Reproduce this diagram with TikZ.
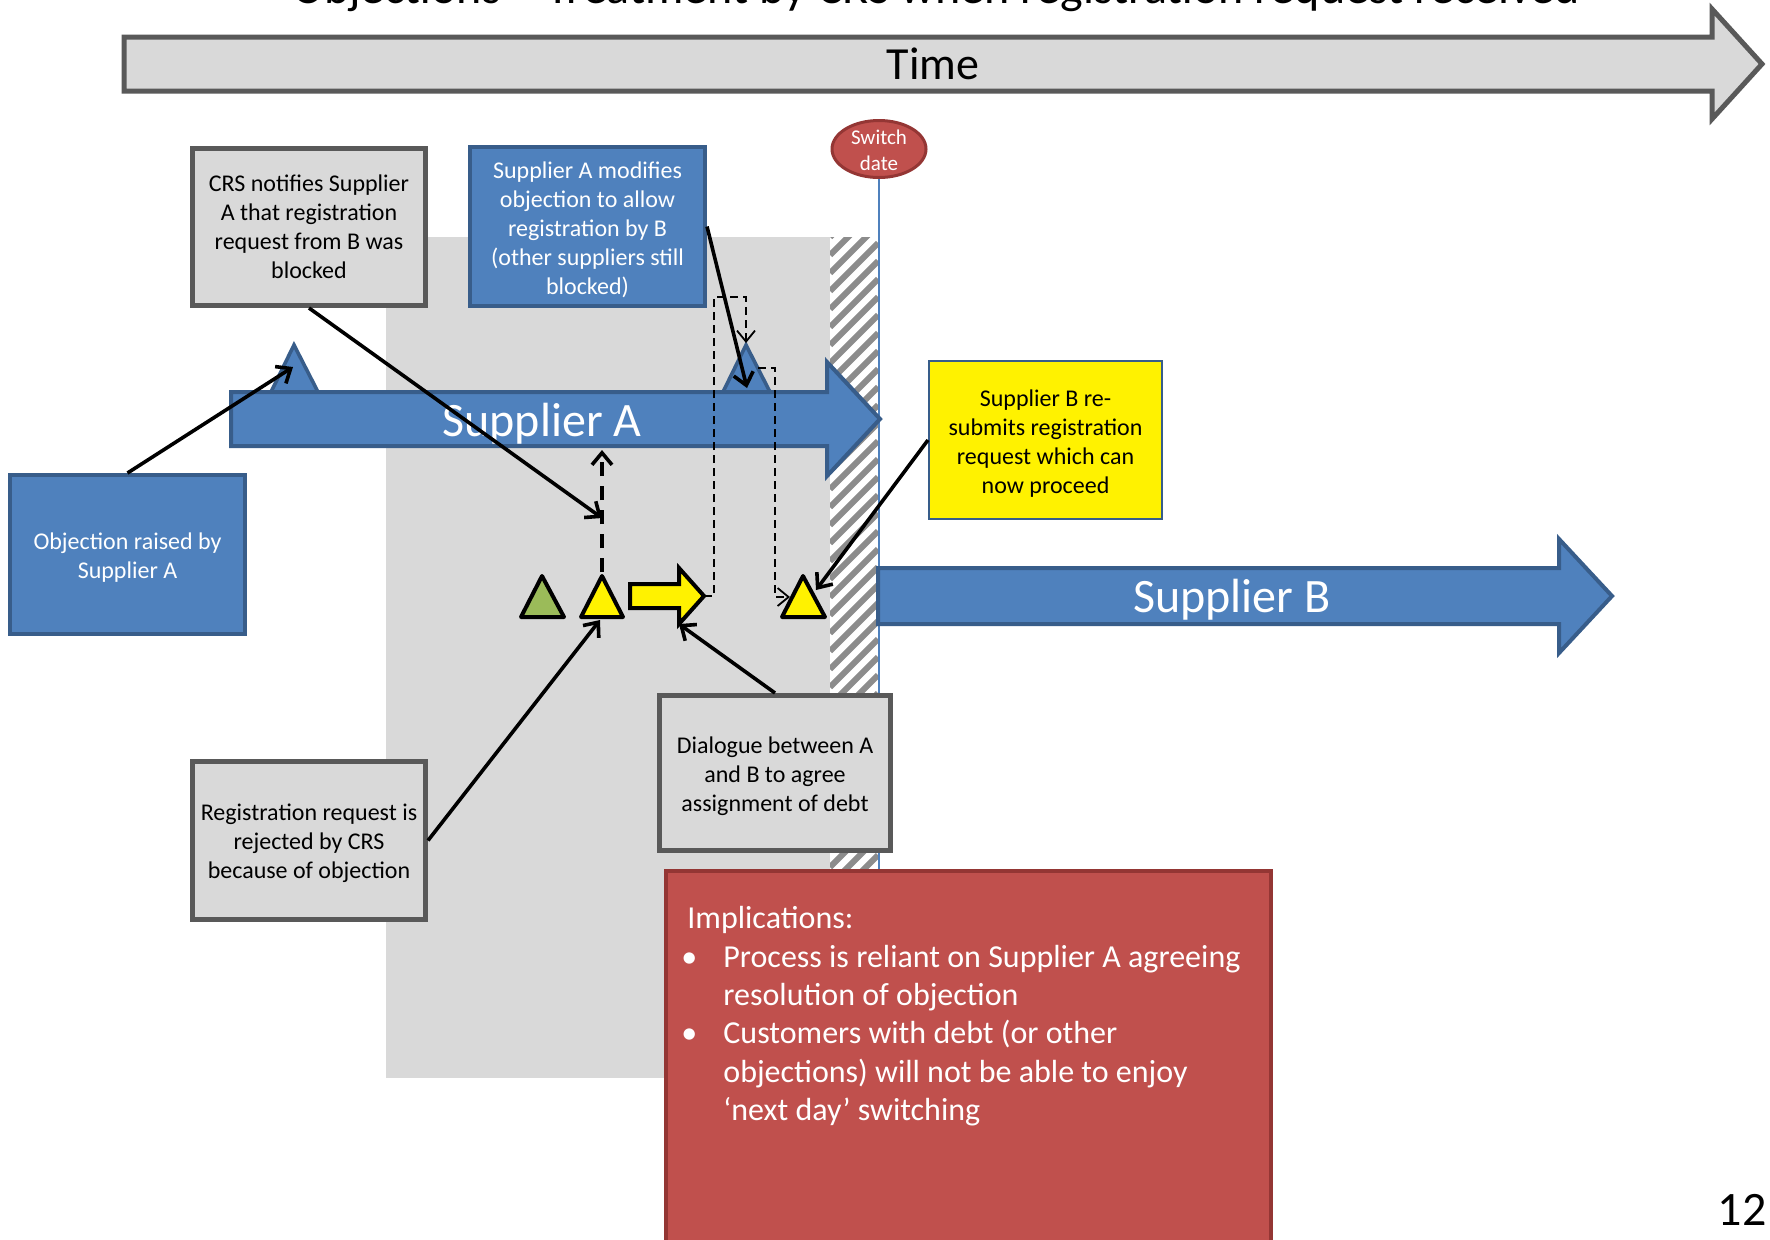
\documentclass[tikz,border=0pt]{standalone}
\usepackage{fontspec}
\setmainfont{Carlito}
\usetikzlibrary{shapes.geometric,arrows.meta}

\definecolor{blueF}{HTML}{4F81BD}
\definecolor{blueD}{HTML}{385D8A}
\definecolor{greyF}{HTML}{D9D9D9}
\definecolor{greyD}{HTML}{595959}
\definecolor{redF}{HTML}{C0504D}
\definecolor{redD}{HTML}{943634}
\definecolor{greenF}{HTML}{9BBB59}
\definecolor{hatchC}{HTML}{8C8C8C}

% invisible strut that lowers a centred block of lines a little
\newcommand\firstline{\rule{0pt}{11.5pt}}

\tikzset{
  small/.style={font=\fontsize{12}{14.5}\selectfont},
  greybox/.style={small, draw=greyD, line width=2.5pt, fill=greyF, align=center,
    inner sep=0pt},
  bluebox/.style={small, draw=blueD, line width=2pt, fill=blueF, text=white,
    align=center, inner sep=0pt},
  conn/.style={line width=1.8pt, -{Straight Barb[length=6pt,width=10pt]}},
  thickdash/.style={conn, dash pattern=on 7pt off 5pt},
  thindash/.style={line width=0.9pt, dash pattern=on 4pt off 2.5pt,
    -{Straight Barb[length=5.5pt,width=9pt]}},
  lane/.style={draw=blueD, line width=2pt, fill=blueF, line join=miter},
  marker/.style={draw=black, line width=2pt, line join=round},
  big/.style={font=\fontsize{24}{28}\selectfont},
  impl/.style={anchor=base west, text=white, inner sep=0pt,
    font=\fontsize{16}{19.2}\selectfont},
}

\begin{document}
\begin{tikzpicture}[x=0.5pt,y=-0.5pt]
\useasboundingbox (0,0) rectangle (1770,1239);
\clip (0,0) rectangle (1770,1239);
\fill[white] (0,0) rectangle (1770,1239);

% objection period and frozen strip before the switch date
\fill[greyF] (386,237) rectangle (830,1078);
\begin{scope}
  \clip (830,237) rectangle (878,1078);
  \foreach \k in {0,...,50}
    \draw[hatchC, line width=3pt] (830,237+\k*18) -- ++(48,-48);
\end{scope}

% title
\node[anchor=base, font=\fontsize{24}{28}\selectfont] (title) at (936,3)
  {Objections – Treatment by CRS when registration request received};

% time axis
\draw[greyD, line width=2.5pt, fill=greyF, line join=miter]
  (124,37) -- (1712,37) -- (1712,9) -- (1762,64) -- (1712,119) -- (1712,91)
  -- (124,91) -- cycle;
\node[font=\fontsize{23}{28}\selectfont] (time) at (933,64) {Time};

% switch date marker
\node[ellipse, draw=redD, line width=1.5pt, fill=redF, minimum width=47pt,
  minimum height=28.5pt, inner sep=0pt] (sw) at (879,149) {};
\node[text=white, align=center, inner sep=0pt,
  font=\fontsize{10.5}{13}\selectfont] (swtext) at (879,150) {Switch\\date};
\coordinate (swend) at (879,1078);
\draw[blueF, line width=0.8pt] (sw.south) -- (swend);

% supplier lanes
\draw[lane] (231,392) -- (827,392) -- (827,362) -- (880,419) -- (827,476)
  -- (827,446) -- (231,446) -- cycle;
\node[big, text=white] (supA) at (542,423.5) {Supplier A};
\draw[lane] (878,568) -- (1559,568) -- (1559,539) -- (1612,596) -- (1559,653)
  -- (1559,624) -- (878,624) -- cycle;
\node[big, text=white] (supB) at (1232,600) {Supplier B};

% objection markers on Supplier A
\draw[lane, line width=1.8pt] (271,392) -- (294,345) -- (318,392) -- cycle;
\draw[lane, line width=1.8pt] (723,392) -- (746,345) -- (770,392) -- cycle;
\coordinate (triLin) at (293,367);
\coordinate (triRin) at (747,388);
\coordinate (triRtop) at (746,343);
\coordinate (triRside) at (758,368);

% registration request markers
\draw[marker, fill=greenF] (521,617) -- (542,576) -- (564,617) -- cycle;
\draw[marker, fill=yellow] (581,617) -- (602,576) -- (623,617) -- cycle;
\draw[marker, fill=yellow] (782,617) -- (803,576) -- (825,617) -- cycle;
\draw[draw=black, line width=2pt, line join=miter, fill=yellow]
  (630,584) -- (679,584) -- (679,568) -- (704,596) -- (679,624) -- (679,608)
  -- (630,608) -- cycle;
\coordinate (tri1top) at (602,572);
\coordinate (tri1bot) at (600,620);
\coordinate (tri2in) at (816,590);
\coordinate (tri2left) at (790,597);
\coordinate (yarTip) at (704,596);
\coordinate (yarBot) at (679,624);
\coordinate (supAbot) at (602,450);
\coordinate (dashmid) at (602,518);
\coordinate (d1) at (714,297);
\coordinate (d2) at (775,597);

% call-out boxes
\node[bluebox, minimum width=117.5pt, minimum height=79.5pt] (objbox)
  at (127.5,554.5) {\firstline Objection raised by\\Supplier A};
\node[greybox, minimum width=116.5pt, minimum height=78.5pt] (crs)
  at (309,227) {CRS notifies Supplier\\A that registration\\request from B was\\blocked};
\node[greybox, minimum width=116.5pt, minimum height=79pt] (regbox)
  at (309,840.5) {\firstline Registration request is\\rejected by CRS\\because of objection};
\node[bluebox, minimum width=117.5pt, minimum height=79.5pt] (modbox)
  at (587.5,226.5) {\firstline Supplier A modifies\\objection to allow\\registration by B\\(other suppliers still\\blocked)};
\node[small, draw=blueD, line width=1.2pt, fill=yellow, align=center,
  inner sep=0pt, minimum width=116.3pt, minimum height=78.8pt] (ybox)
  at (1045.5,440) {\firstline Supplier B re-\\submits registration\\request which can\\now proceed};
\node[greybox, minimum width=115.5pt, minimum height=77.5pt] (dlg)
  at (775,773) {\firstline Dialogue between A\\and B to agree\\assignment of debt};

% connectors
\draw[conn] (objbox.north) -- (triLin);
\draw[conn] (crs.south) -- (dashmid);
\draw[thickdash] (tri1top) -- (supAbot);
\draw[conn] (modbox.east) -- (triRin);
\draw[thindash] (yarTip) -| (d1) -| (triRtop);
\draw[thindash] (triRside) -| (d2) -- (tri2left);
\draw[conn] (ybox.west) -- (tri2in);
\draw[conn] (regbox.east) -- (tri1bot);
\draw[conn] (dlg.north) -- (yarBot);

% implications panel
\filldraw[fill=redF, draw=redD, line width=2pt] (666,871) rectangle (1271,1262);
\node[impl] (im0) at (687,928) {Implications:};
\node[impl] (b1) at (681,967) {•};
\node[impl] (im1) at (723,967) {Process is reliant on Supplier A agreeing};
\node[impl] (im2) at (723,1005) {resolution of objection};
\node[impl] (b2) at (681,1043) {•};
\node[impl] (im3) at (723,1043) {Customers with debt (or other};
\node[impl] (im4) at (723,1082) {objections) will not be able to enjoy};
\node[impl] (im5) at (723,1120) {‘next day’ switching};

% page number
\node[anchor=base east, inner sep=0pt, font=\fontsize{24}{28}\selectfont] (pg)
  at (1767,1225) {12};
\end{tikzpicture}
\end{document}
